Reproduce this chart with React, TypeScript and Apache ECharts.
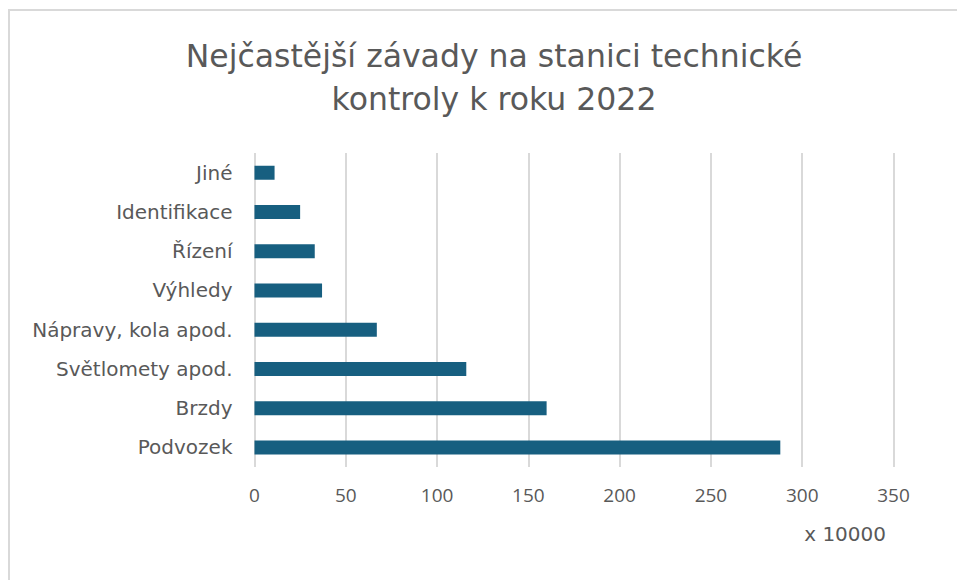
import React, { useEffect, useRef } from "react";
import * as echarts from "echarts";

const categories = ["Podvozek", "Brzdy", "Světlomety apod.", "Nápravy, kola apod.", "Výhledy", "Řízení", "Identifikace", "Jiné"];
const values = [288, 160, 116, 67, 37, 33, 25, 11];
const titleText = "Nejčastější závady na stanici technické\nkontroly k roku 2022";
const unitLabel = "x 10000";

export default function App() {
  const ref = useRef<HTMLDivElement>(null);
  useEffect(() => {
    const chart = echarts.init(ref.current!, null, { renderer: "svg" });
    chart.setOption({
      animation: false,
      backgroundColor: "#ffffff",
      title: {
        text: titleText,
        left: 489,
        textAlign: "center",
        top: 29,
        textStyle: { fontFamily: "DejaVu Sans", fontWeight: "normal", fontSize: 31.5, color: "#595959", lineHeight: 43 },
      },
      grid: { left: 254.5, right: 63.5, top: 153, bottom: 113, containLabel: false },
      xAxis: {
        type: "value",
        min: 0,
        max: 350,
        interval: 50,
        axisLine: { show: false },
        axisTick: { show: false },
        splitLine: { show: true, lineStyle: { color: "#d9d9d9", width: 2 } },
        axisLabel: { fontFamily: "Open Sans", fontSize: 19, color: "#595959", margin: 18 },
      },
      yAxis: {
        type: "category",
        data: categories,
        axisLine: { show: false },
        axisTick: { show: false },
        axisLabel: { fontFamily: "DejaVu Sans", fontSize: 20, color: "#595959", margin: 22 },
      },
      graphic: [
        {
          type: "rect",
          shape: { x: 9, y: 10, width: 1000, height: 1000 },
          style: { fill: "none", stroke: "#d9d9d9", lineWidth: 2 },
          silent: true,
        },
        {
          type: "text",
          right: 71,
          top: 524,
          style: { text: unitLabel, fontFamily: "DejaVu Sans", fontSize: 20, fill: "#595959" },
        },
      ],
      series: [
        {
          type: "bar",
          data: values,
          barWidth: 14,
          itemStyle: { color: "#175F80" },
        },
      ],
    });
    return () => chart.dispose();
  }, []);
  return <div ref={ref} style={{ position: "fixed", left: 0, top: 0, width: 957, height: 580 }} />;
}
